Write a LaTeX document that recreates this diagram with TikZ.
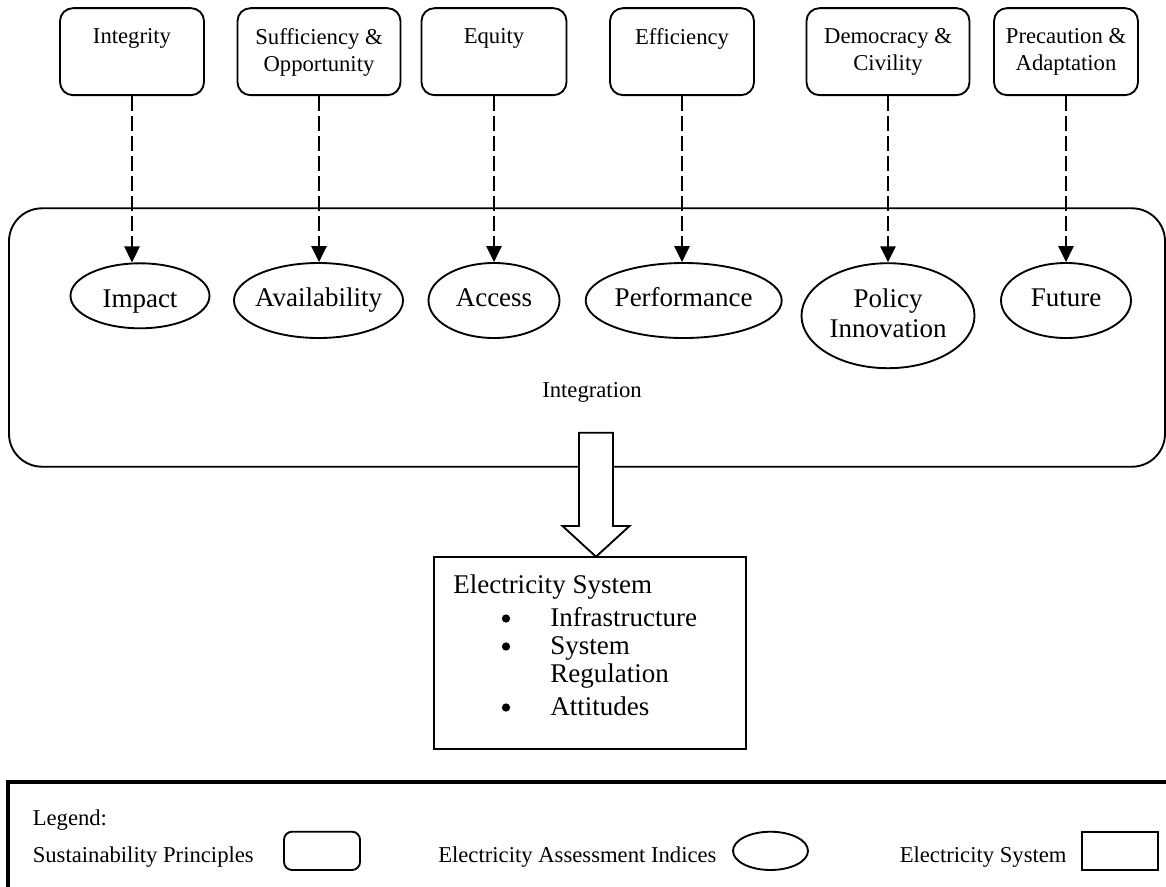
\documentclass[tikz,border=0pt]{standalone}
\usepackage{fontspec}
\setmainfont{Liberation Serif}
\usetikzlibrary{positioning,arrows.meta,shapes.geometric,calc}
\newcommand{\smallfont}{\fontsize{17}{20}\selectfont}
\newcommand{\bigfont}{\fontsize{20.25}{22.5}\selectfont}
\tikzset{
  pbox/.style={draw,rounded corners=9.75pt,line width=1.4pt,
               minimum width=#1,minimum height=65.25pt,inner sep=0pt},
  ptext/.style={font=\smallfont,align=center,inner sep=0pt,anchor=north,yshift=-16pt},
  eind/.style={draw,ellipse,line width=1.4pt,inner sep=0pt},
  etext/.style={font=\bigfont,inner sep=0pt,text height=14pt,text depth=4.4pt},
  darr/.style={-{Triangle[length=12pt,width=11.5pt]},line width=1.4pt,
               dash pattern=on 11.25pt off 3.75pt},
  ebox/.style={draw,line width=1.4pt,inner sep=0pt},
  hollow/.style={draw,fill=white,line width=1.4pt,line join=miter},
  legtext/.style={font=\smallfont,inner sep=0pt,anchor=base west},
}
\begin{document}
\begin{tikzpicture}[x=0.75pt,y=-0.75pt]
  \clip (0,0) rectangle (1166,886);
  % integration frame
  \node[draw,rounded corners=24.75pt,line width=1.4pt,minimum width=867pt,
        minimum height=193.8pt,inner sep=0pt] (integration) at (587,337.5) {};
  \node[font=\smallfont,inner sep=0pt] (integtext) at (592,392) {Integration};
  % sustainability principles
  \node[pbox=108pt,label={[ptext]north:Integrity}] (intgr) at (132,51.65) {};
  \node[pbox=122.25pt,label={[ptext]north:Sufficiency \&\\Opportunity}] (suffic) at (319,51.65) {};
  \node[pbox=108.75pt,label={[ptext]north:Equity}] (equity) at (494,51.65) {};
  \node[pbox=108pt,label={[ptext]north:Efficiency}] (effic) at (682,51.65) {};
  \node[pbox=122.25pt,label={[ptext]north:Democracy \&\\Civility}] (democ) at (888,51.65) {};
  \node[pbox=108pt,label={[ptext]north:Precaution \&\\Adaptation}] (precau) at (1066,51.65) {};
  % assessment indices
  \node[eind,minimum width=104.25pt,minimum height=48.75pt,
        label={[etext,yshift=-4pt]center:Impact}] (impact) at (140,295.8) {};
  \node[eind,minimum width=126.75pt,minimum height=56.25pt,
        label={[etext]center:Availability}] (avail) at (318.5,300.5) {};
  \node[eind,minimum width=98.25pt,minimum height=56.25pt,
        label={[etext]center:Access}] (access) at (494,300.5) {};
  \node[eind,minimum width=147pt,minimum height=56.25pt,
        label={[etext]center:Performance}] (perf) at (683.7,300.5) {};
  \node[eind,minimum width=129.75pt,minimum height=78.75pt,
        label={[font=\bigfont,align=center,inner sep=0pt,yshift=1.5pt]center:Policy\\Innovation}] (policy) at (888,315.7) {};
  \node[eind,minimum width=97.5pt,minimum height=56.25pt,
        label={[etext]center:Future}] (future) at (1066,300.5) {};
  \foreach \p/\e in {intgr/impact,suffic/avail,equity/access,effic/perf,democ/policy,precau/future}
    \draw[darr] (\p.south) -- (\p.south |- \e.north);
  % electricity system
  \node[ebox,minimum width=233.8pt,minimum height=144.2pt] (elec) at (589.85,652.85) {};
  \node[font=\bigfont,inner sep=0pt,anchor=base west] (elechead) at (453,593) {Electricity System};
  \foreach \t/\y in {Infrastructure/626,System/654,Regulation/682,Attitudes/715}
    \node[font=\bigfont,inner sep=0pt,anchor=base west] at (550,\y) {\t};
  \foreach \y in {626,654,715}
    \fill (506,\y-7.5) circle (3.1pt);
  % block arrow
  \coordinate (tip) at (596,556.7);
  \draw[hollow] (tip) -- ++(-33.5,-30.7) -- ++(16.5,0) -- ++(0,-93.3) -- ++(34,0)
    -- ++(0,93.3) -- ++(16.5,0) -- cycle;
  % legend
  \draw[line width=3pt] (8.4,781.7) rectangle (1180,900);
  \node[legtext] (legend) at (32.5,825) {Legend:};
  \node[legtext] (legsp) at (32.5,862.7) {Sustainability Principles};
  \node[draw,rounded corners=6pt,line width=1.4pt,minimum width=57pt,minimum height=28.7pt,
        inner sep=0pt] (legpbox) at (322,850.85) {};
  \node[legtext] (legei) at (438,862.7) {Electricity Assessment Indices};
  \node[eind,minimum width=56.25pt,minimum height=28.7pt] (legell) at (770.5,850.85) {};
  \node[legtext] (leges) at (899.5,862.7) {Electricity System};
  \node[ebox,minimum width=56.8pt,minimum height=28.7pt] (legrect) at (1119.85,850.85) {};
\end{tikzpicture}
\end{document}
